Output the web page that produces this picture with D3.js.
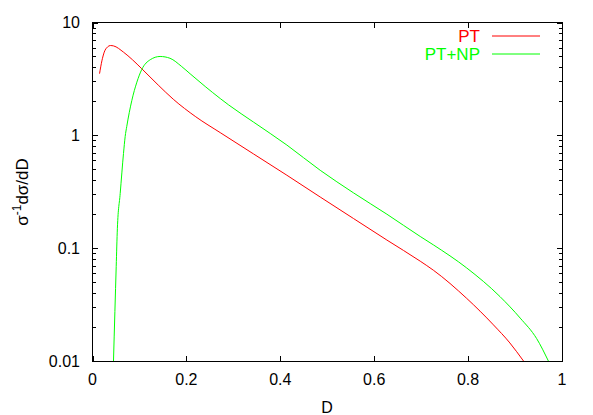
<!DOCTYPE html>
<html><head><meta charset="utf-8">
<script src="https://cdn.jsdelivr.net/npm/d3@7"></script>
<style>body{margin:0;background:#fff}svg{display:block}text{font-family:"Liberation Sans",Arial,sans-serif}</style>
</head><body><svg id="c" width="593" height="415"></svg>
<script>
const xTicks = [0, 0.2, 0.4, 0.6, 0.8, 1];
const xTickLabels = ["0", "0.2", "0.4", "0.6", "0.8", "1"];
const yTicks = [0.01, 0.1, 1, 10];
const yTickLabels = ["0.01", "0.1", "1", "10"];
const seriesNames = ["PT", "PT+NP"];
const seriesColors = ["#ff0000", "#00ff00"];
const ptD = [0.015,0.02,0.025,0.032,0.038,0.045,0.066,0.085,0.105,0.14,0.172,0.22,0.272,0.343,0.414,0.485,0.556,0.627,0.698,0.726,0.797,0.854,0.889,0.918];
const ptV = [3.52,4.57,5.46,6.07,6.25,6.2,5.46,4.68,3.89,2.79,2.09,1.46,1.057,0.684,0.443,0.284,0.183,0.118,0.0767,0.0638,0.0359,0.0209,0.01445,0.01];
const npD = [0.0447,0.0477,0.0505,0.053,0.059,0.066,0.0696,0.073,0.0838,0.0945,0.105,0.123,0.144,0.165,0.19,0.208,0.24,0.272,0.29,0.343,0.414,0.485,0.556,0.627,0.698,0.726,0.797,0.868,0.911,0.946,0.971];
const npV = [0.01,0.0275,0.069,0.15,0.305,0.69,0.977,1.2,2.04,2.96,3.84,4.68,5.0,4.82,4.07,3.51,2.71,2.12,1.86,1.31,0.82,0.49,0.309,0.2,0.127,0.107,0.0668,0.0372,0.024,0.0158,0.01];

const svg = d3.select("#c");
const L = 92.5, R = 562, T = 22.5, B = 361;
const x = d3.scaleLinear().domain([0, 1]).range([L, R]);
const y = d3.scaleLog().domain([0.01, 10]).range([B, T]);
const FS = 16;

svg.append("defs").append("clipPath").attr("id","clip")
  .append("rect").attr("x",L).attr("y",T).attr("width",R-L).attr("height",B-T);

// ticks
const g = svg.append("g").attr("stroke","#000").attr("stroke-width",1).attr("shape-rendering","crispEdges");
xTicks.forEach(t => {
  const px = Math.round(x(t)) + 0.5;
  g.append("line").attr("x1",px).attr("x2",px).attr("y1",B).attr("y2",B-5);
  g.append("line").attr("x1",px).attr("x2",px).attr("y1",T).attr("y2",T+5);
});
const minor = [];
for (let e = -2; e < 1; e++) for (let m = 2; m <= 9; m++) minor.push(m * Math.pow(10, e));
minor.forEach(v => {
  const py = Math.round(y(v)) + 0.5;
  g.append("line").attr("x1",L).attr("x2",L+3).attr("y1",py).attr("y2",py);
  g.append("line").attr("x1",R).attr("x2",R-3).attr("y1",py).attr("y2",py);
});
yTicks.forEach(v => {
  const py = Math.round(y(v)) + 0.5;
  g.append("line").attr("x1",L).attr("x2",L+5).attr("y1",py).attr("y2",py);
  g.append("line").attr("x1",R).attr("x2",R-5).attr("y1",py).attr("y2",py);
});
g.append("rect").attr("x",L).attr("y",T).attr("width",R-L).attr("height",B-T).attr("fill","none");

// tick labels
xTicks.forEach((t,i) => {
  svg.append("text").attr("x",x(t)).attr("y",384.5).attr("text-anchor","middle")
    .attr("font-size",FS).text(xTickLabels[i]);
});
yTicks.forEach((v,i) => {
  svg.append("text").attr("x",80).attr("y",y(v)).attr("dy","0.36em").attr("text-anchor","end")
    .attr("font-size",FS).text(yTickLabels[i]);
});

// axis labels
svg.append("text").attr("x",327).attr("y",412.5).attr("text-anchor","middle").attr("font-size",FS).text("D");
const yl = svg.append("text").attr("transform","translate(28,192) rotate(-90)")
  .attr("text-anchor","middle").attr("font-size",FS+1);
yl.append("tspan").text("σ");
yl.append("tspan").attr("dy",-7).attr("font-size",12).text("-1");
yl.append("tspan").attr("dy",7).text("dσ/dD");

// curves
const line = d3.line().x(d => x(d[0])).y(d => y(d[1])).curve(d3.curveMonotoneX);
const series = [d3.zip(ptD, ptV), d3.zip(npD, npV)];
const cg = svg.append("g").attr("clip-path","url(#clip)");
series.forEach((s,i) => {
  cg.append("path").datum(s).attr("d", line).attr("fill","none")
    .attr("stroke", seriesColors[i]).attr("stroke-width",1);
});

// legend
const legY = [36, 54];
seriesNames.forEach((n,i) => {
  svg.append("text").attr("x",480).attr("y",legY[i]).attr("dy","0.36em").attr("text-anchor","end")
    .attr("font-size",FS+1).attr("fill",seriesColors[i]).text(n);
  svg.append("line").attr("x1",492).attr("x2",540).attr("y1",legY[i]).attr("y2",legY[i])
    .attr("stroke",seriesColors[i]).attr("stroke-width",1);
});
</script></body></html>
